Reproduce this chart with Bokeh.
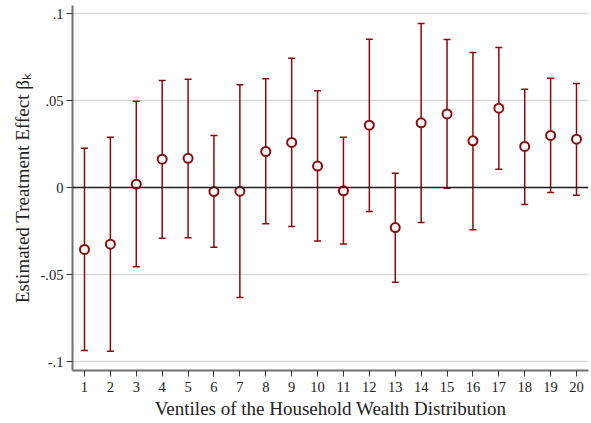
from bokeh.plotting import figure
from bokeh.models import ColumnDataSource, Whisker, TeeHead, Span, Range1d, FixedTicker
from bokeh.embed import file_html
from bokeh.resources import INLINE

ventiles = list(range(1, 21))
estimate = [-0.0356, -0.0326, 0.0019, 0.0163, 0.0168, -0.0023, -0.0021, 0.0207, 0.0259, 0.0123,
            -0.0019, 0.0358, -0.0230, 0.0372, 0.0423, 0.0268, 0.0456, 0.0236, 0.0299, 0.0278]
upper = [0.0226, 0.0289, 0.0496, 0.0615, 0.0622, 0.0299, 0.0590, 0.0625, 0.0743, 0.0556,
         0.0289, 0.0852, 0.0082, 0.0943, 0.0851, 0.0776, 0.0805, 0.0565, 0.0628, 0.0598]
lower = [-0.0937, -0.0941, -0.0456, -0.0291, -0.0289, -0.0343, -0.0632, -0.0209, -0.0224, -0.0308,
         -0.0324, -0.0138, -0.0544, -0.0201, -0.0004, -0.0243, 0.0105, -0.0098, -0.0029, -0.0044]
y_ticks = [-0.1, -0.05, 0, 0.05, 0.1]
y_tick_labels = ["-.1", "-.05", "0", ".05", ".1"]

RED = "#8b0a0a"
FONT = "Liberation Serif"

src = ColumnDataSource(dict(x=ventiles, y=estimate, upper=upper, lower=lower))

p = figure(width=591, height=423, output_backend="svg", toolbar_location=None,
           x_range=Range1d(0.537, 20.463), y_range=Range1d(-0.10517, 0.1046),
           min_border_left=72, min_border_right=3, min_border_top=5, min_border_bottom=53)
p.outline_line_color = None
p.background_fill_color = "white"
p.border_fill_color = "white"

p.xgrid.visible = False
p.ygrid.ticker = FixedTicker(ticks=y_ticks)
p.ygrid.grid_line_color = "#d9d9d9"
p.ygrid.grid_line_width = 1.5

p.add_layout(Span(location=0, dimension="width", line_color="#222222", line_width=1.5))

w = Whisker(base="x", upper="upper", lower="lower", source=src, dimension="height",
            line_color=RED, line_width=1.5,
            upper_head=TeeHead(size=7, line_color=RED, line_width=1.5),
            lower_head=TeeHead(size=7, line_color=RED, line_width=1.5))
p.add_layout(w)

p.scatter("x", "y", source=src, size=9, fill_color="white", line_color=RED, line_width=2)

p.xaxis.ticker = FixedTicker(ticks=ventiles)
p.yaxis.ticker = FixedTicker(ticks=y_ticks)
p.yaxis.major_label_overrides = {t: l for t, l in zip(y_ticks, y_tick_labels)}
p.xaxis.axis_label = "Ventiles of the Household Wealth Distribution"
p.yaxis.axis_label = "Estimated Treatment Effect \u03b2\u2096"
for ax in (p.xaxis, p.yaxis):
    ax.axis_line_color = "#707070"
    ax.axis_line_width = 2
    ax.major_tick_line_color = "#333333"
    ax.major_tick_line_width = 1
    ax.major_tick_in = 0
    ax.major_tick_out = 6
    ax.minor_tick_line_color = None
    ax.major_label_text_font = FONT
    ax.major_label_text_font_size = "14.5px"
    ax.major_label_text_color = "#222222"
    ax.axis_label_text_font = FONT
    ax.axis_label_text_font_size = "19px"
    ax.axis_label_text_font_style = "normal"
    ax.axis_label_text_color = "#222222"
p.xaxis.major_label_standoff = 5
p.xaxis.axis_label_standoff = 3
p.yaxis.major_label_standoff = 3
p.yaxis.axis_label_standoff = 5

open("out.html", "w").write(file_html(p, INLINE))
